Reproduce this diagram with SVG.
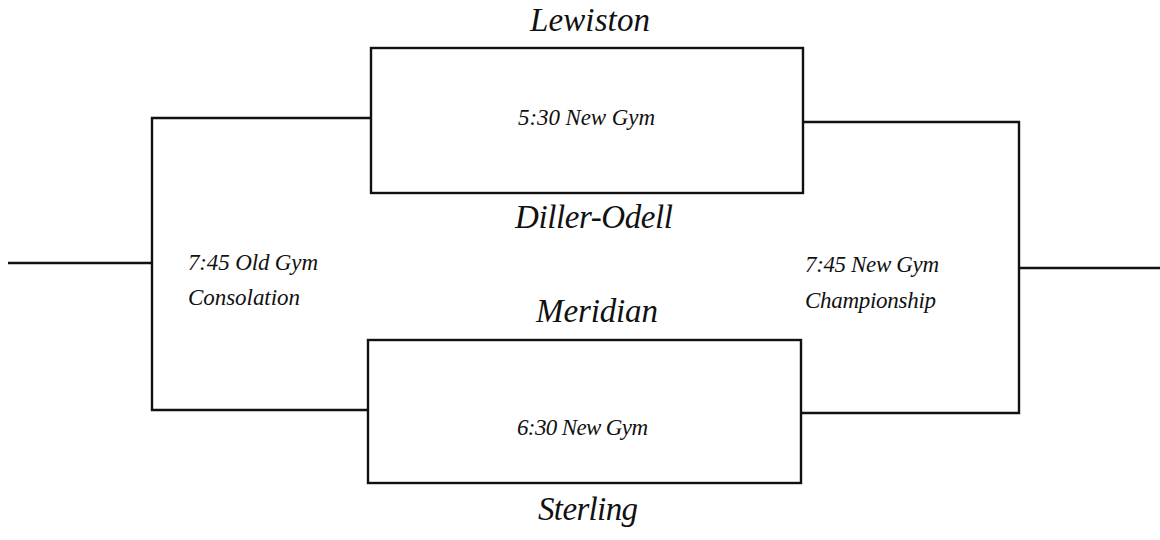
<svg xmlns="http://www.w3.org/2000/svg" width="1160" height="540" viewBox="0 0 1160 540">
<style>
.box{fill:none;stroke:#111;stroke-width:2.4}
.wire{fill:none;stroke:#111;stroke-width:2.4}
.team{font-family:"Liberation Serif","Times New Roman",serif;font-style:italic;font-size:33px;fill:#111}
.info{font-family:"Liberation Serif","Times New Roman",serif;font-style:italic;font-size:23px;fill:#111}
</style>
<rect width="1160" height="540" fill="#fff"/>
<g id="connectors">
<path class="wire" d="M8,263 H152"/>
<path class="wire" d="M371,118 H152 V410 H368"/>
<path class="wire" d="M803,122 H1019 V413 H801"/>
<path class="wire" d="M1019,268 H1160"/>
</g>
<g id="game1">
<rect class="box" x="371" y="48" width="432" height="145"/>
<text class="team" x="530" y="31" textLength="120">Lewiston</text>
<text class="info" x="518" y="125" textLength="137">5:30 New Gym</text>
<text class="team" x="515" y="228" textLength="158">Diller-Odell</text>
</g>
<g id="game2">
<rect class="box" x="368" y="340" width="433" height="143"/>
<text class="team" x="536" y="322" textLength="122">Meridian</text>
<text class="info" x="517" y="435" textLength="131">6:30 New Gym</text>
<text class="team" x="538" y="520" textLength="100">Sterling</text>
</g>
<g id="consolation">
<text class="info" x="188" y="270" textLength="130">7:45 Old Gym</text>
<text class="info" x="188" y="305" textLength="112">Consolation</text>
</g>
<g id="championship">
<text class="info" x="805" y="272" textLength="134">7:45 New Gym</text>
<text class="info" x="805" y="308" textLength="131">Championship</text>
</g>
</svg>
